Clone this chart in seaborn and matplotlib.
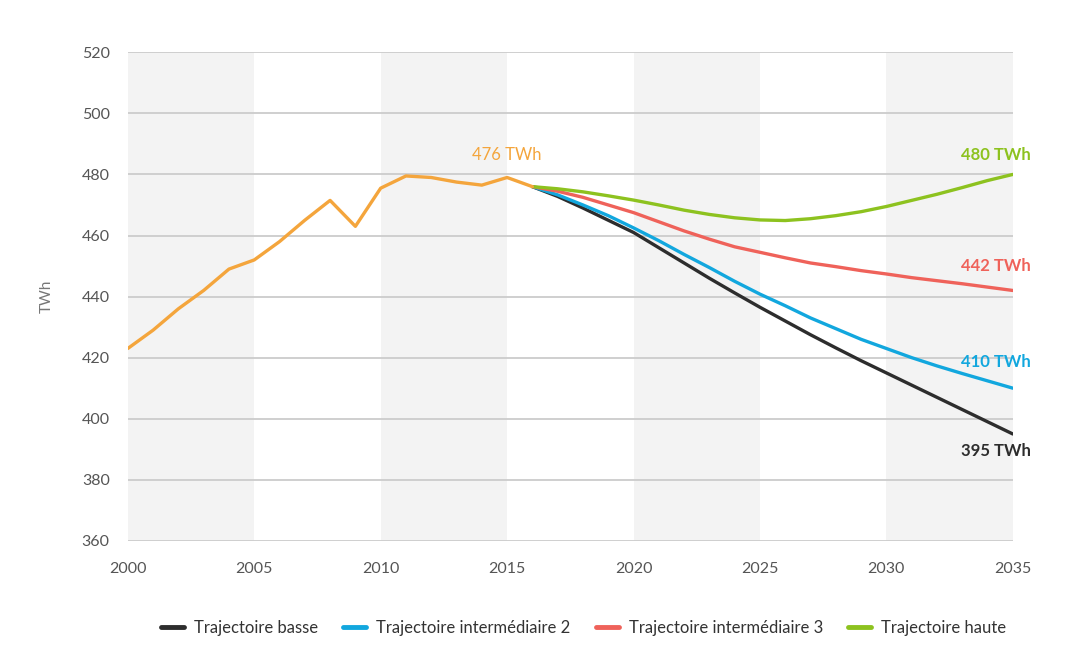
import matplotlib
matplotlib.use("Agg")
import matplotlib.pyplot as plt
import seaborn as sns
import pandas as pd

# Historical consumption (TWh)
hist_years = list(range(2000, 2017))
hist_values = [423, 429, 436, 442, 449, 452, 458, 465, 471.5, 463, 475.5,
               479.5, 479, 477.5, 476.5, 479, 476]

# Projection trajectories 2016-2035 (TWh)
proj_years = list(range(2016, 2036))
basse = [476, 472.8, 469, 465, 461, 456, 451, 446, 441.2, 436.5,
         432, 427.5, 423.2, 419, 415, 411, 407, 403, 399, 395]
inter2 = [476, 473.3, 470, 466.5, 462.5, 458.3, 453.8, 449.5, 445, 440.8,
          437, 433, 429.5, 426, 423, 420, 417.3, 414.8, 412.4, 410]
inter3 = [476, 474.5, 472.5, 470, 467.5, 464.5, 461.5, 458.8, 456.3, 454.5,
          452.7, 451, 449.8, 448.5, 447.4, 446.2, 445.2, 444.2, 443.1, 442]
haute = [476, 475.3, 474.3, 473, 471.6, 470, 468.3, 466.9, 465.8, 465.1,
         464.9, 465.5, 466.5, 467.8, 469.5, 471.5, 473.5, 475.7, 478, 480]

series_names = ["Trajectoire basse", "Trajectoire intermédiaire 2",
                "Trajectoire intermédiaire 3", "Trajectoire haute"]
series_values = [basse, inter2, inter3, haute]
series_colors = ["#2d2d2d", "#12a7de", "#ef625a", "#8dc21f"]
hist_color = "#f4a53c"

end_labels = ["395 TWh", "410 TWh", "442 TWh", "480 TWh"]
shade_spans = [(2000, 2005), (2010, 2015), (2020, 2025), (2030, 2035)]

hist_df = pd.DataFrame({"year": hist_years, "TWh": hist_values})
proj_df = pd.concat(
    [pd.DataFrame({"year": proj_years, "TWh": v, "trajectoire": n})
     for n, v in zip(series_names, series_values)],
    ignore_index=True,
)

sns.set_theme(style="white")
plt.rcParams["font.family"] = ["Lato", "DejaVu Sans"]

fig = plt.figure(figsize=(10.65, 6.62), dpi=100)
ax = fig.add_axes([0.120, 0.183, 0.831, 0.738])

for x0, x1 in shade_spans:
    ax.axvspan(x0, x1, color="#f3f3f3", lw=0, zorder=0)

for yv in range(360, 521, 20):
    ax.axhline(yv, color="#cccccc", lw=1.3, zorder=1)

sns.lineplot(data=proj_df, x="year", y="TWh", hue="trajectoire",
             hue_order=series_names, palette=series_colors, lw=2.4,
             ax=ax, zorder=3)
sns.lineplot(data=hist_df, x="year", y="TWh", color=hist_color, lw=2.4,
             ax=ax, zorder=4, legend=False)

ax.set_xlim(2000, 2035)
ax.set_ylim(360, 520)
ax.set_xticks(range(2000, 2036, 5))
ax.set_yticks(range(360, 521, 20))
ax.tick_params(axis="both", length=0, labelsize=11.5, colors="#555555")
ax.tick_params(axis="x", pad=15)
ax.tick_params(axis="y", pad=13)
for s in ax.spines.values():
    s.set_visible(False)
ax.set_xlabel("")
ax.set_ylabel("TWh", fontsize=11, color="#777777", labelpad=20)

# value labels
ax.text(2015.0, 486.5, f"{hist_values[-1]:g} TWh", color=hist_color,
        fontsize=12, ha="center", va="center")
label_y = [389.5, 418.5, 450, 486.5]
for vals, col, txt, ly in zip(series_values, series_colors, end_labels, label_y):
    ax.text(2035.7, ly, f"{vals[-1]:g} TWh", color=col, fontsize=12,
            fontweight="bold", ha="right", va="center", clip_on=False)

sns.move_legend(ax, "lower center", bbox_to_anchor=(0.515, -0.225), ncol=4,
                frameon=False, title=None, fontsize=12, handlelength=1.4,
                columnspacing=1.5, handletextpad=0.6)
for line in ax.get_legend().get_lines():
    line.set_linewidth(3.5)
for t in ax.get_legend().get_texts():
    t.set_color("#333333")

fig.savefig("out.png", dpi=100, facecolor="white")
